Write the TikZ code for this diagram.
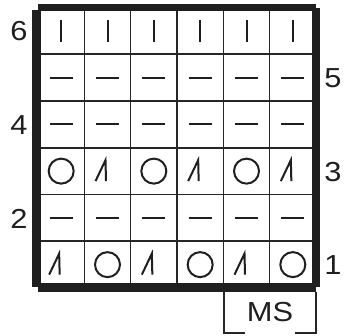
\documentclass[tikz,border=0pt]{standalone}
\usepackage{fontspec}
\newfontfamily\labfont[FakeStretch=1.12]{Liberation Sans}
\newcommand\knitO[2]{\draw[sym] (#1,#2) circle[radius=12.5];}
\newcommand\knitL[2]{\draw[sym] ({#1-12},{#2+10}) -- ({#1-2},{#2-11}) -- ({#1-1.5},{#2+10});}
\newcommand\knitH[2]{\draw[sym] ({#1-11.5},#2) -- ({#1+11.5},#2);}
\newcommand\knitV[2]{\draw[sym] (#1,{#2-10.5}) -- (#1,{#2+11.5});}
\begin{document}
\begin{tikzpicture}[x=1pt,y=-1pt,
  gridline/.style={line width=1.6pt, draw=black!85},
  frame/.style={fill=black!88},
  sym/.style={line width=2pt, draw=black!88, line join=miter},
  lab/.style={font=\labfont\fontsize{27.5}{27.5}\selectfont, inner sep=0pt, text=black!88}]
\useasboundingbox[fill=white] (0,0) rectangle (344,335);
\def\cw{46.333}
\def\ch{46.75}
% grid lines
\foreach \i in {1,...,5} {
  \draw[gridline] ({38+\i*\cw},7.5) -- ({38+\i*\cw},288);
  \draw[gridline] (38,{7.5+\i*\ch}) -- (316,{7.5+\i*\ch});
}
% frame bars
\fill[frame] (38,4) rectangle (316,11);
\fill[frame] (32,10) rectangle (41,287);
\fill[frame] (38,283) rectangle (316,292);
\fill[frame] (312,8) rectangle (320,287);
% symbols
\foreach \c in {1,...,6} {
  \pgfmathsetmacro\cx{38+(\c-0.5)*\cw}
  \pgfmathsetmacro\ya{288-0.5*\ch}
  \pgfmathsetmacro\yb{288-1.5*\ch}
  \pgfmathsetmacro\yc{288-2.5*\ch}
  \pgfmathsetmacro\yd{288-3.5*\ch}
  \pgfmathsetmacro\ye{288-4.5*\ch}
  \pgfmathsetmacro\yf{288-5.5*\ch}
  \ifodd\c
    \knitL{\cx}{\ya}
    \knitO{\cx}{\yc}
  \else
    \knitO{\cx}{\ya}
    \knitL{\cx}{\yc}
  \fi
  \knitH{\cx}{\yb}
  \knitH{\cx}{\yd}
  \knitH{\cx}{\ye}
  \knitV{\cx}{\yf}
}
% row numbers
\node[lab] (n6) at (19,31.4) {6};
\node[lab] (n4) at (19,124.9) {4};
\node[lab] (n2) at (19,218.4) {2};
\node[lab] (n5) at (333,78.1) {5};
\node[lab] (n3) at (333,171.6) {3};
\node[lab] (n1) at (333,264.6) {1};
% MS bracket
\node[lab] (ms) at (270,312) {MS};
\coordinate (msl) at (224,292);
\coordinate (msr) at (316,292);
\draw[gridline] (245,333) -| (msl);
\draw[gridline] (295,333) -| (msr);
\end{tikzpicture}
\end{document}
